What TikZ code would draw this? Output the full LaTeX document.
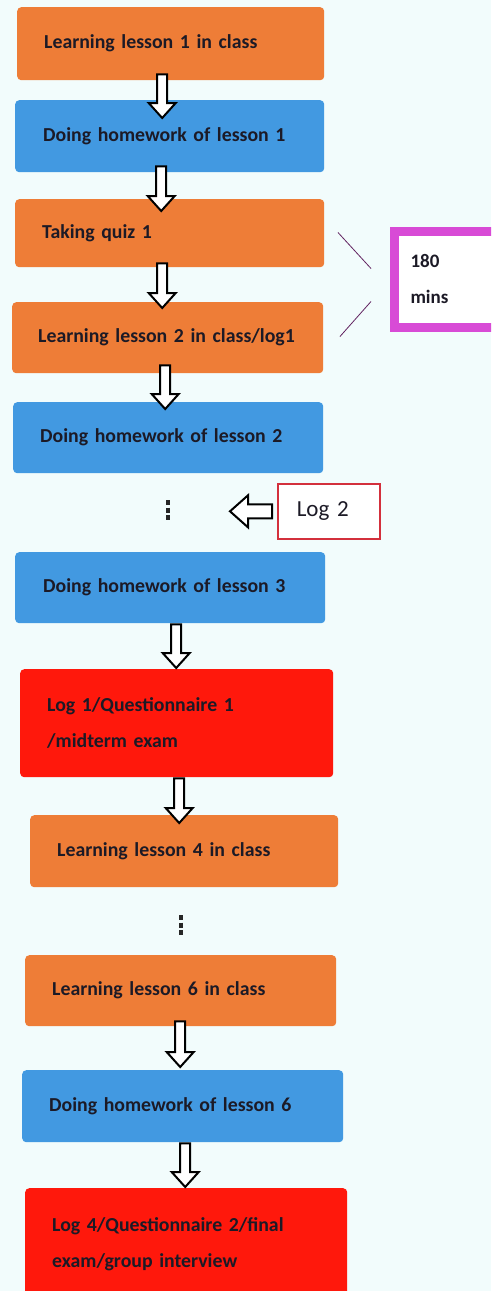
\documentclass[tikz,border=0pt]{standalone}
\usepackage{fontspec}
\setmainfont{Carlito}
\usetikzlibrary{calc}
\definecolor{bg}{HTML}{F2FCFC}
\definecolor{orng}{HTML}{EE7D37}
\definecolor{blu}{HTML}{4299E1}
\definecolor{rd}{HTML}{FF180C}
\definecolor{mag}{HTML}{D84BD6}
\definecolor{logred}{HTML}{D3303C}
\definecolor{txt}{HTML}{1C1A26}
\newcommand\hollowdown[2]{\draw[harrow] let \p1=#1, \p2=#2 in
  (\x1-5pt,\y1) -- (\x1-5pt,\y2+15pt) -- (\x1-13.5pt,\y2+15pt) -- (\x1,\y2)
  -- (\x1+13.5pt,\y2+15pt) -- (\x1+5pt,\y2+15pt) -- (\x1+5pt,\y1) -- cycle;}
\newcommand\hollowleft[2]{\draw[harrow] let \p1=#1, \p2=#2 in
  (\x1,\y1+7pt) -- (\x2+18pt,\y1+7pt) -- (\x2+18pt,\y1+16pt) -- (\x2,\y1)
  -- (\x2+18pt,\y1-16pt) -- (\x2+18pt,\y1-7pt) -- (\x1,\y1-7pt) -- cycle;}
\begin{document}
\begin{tikzpicture}[x=1pt,y=-1pt,
  box/.style={anchor=north west, rounded corners=4pt, inner xsep=27pt, inner ysep=0pt,
    align=left, text=txt, font=\fontsize{19.8}{36}\selectfont\bfseries},
  harrow/.style={draw=black, line width=2pt, fill=white, line join=miter},
  thinline/.style={draw=black!55!mag, line width=0.8pt},
  dotsline/.style={line width=3.5pt, dash pattern=on 5pt off 2.5pt, black!85}]
\useasboundingbox (0,0) rectangle (491,1291);
\clip (0,0) rectangle (491,1291);
\fill[bg] (0,0) rectangle (491,1291);

\node[box, fill=orng, minimum width=307pt, minimum height=73pt, text width=253pt] (b1) at (17,7) {Learning lesson 1 in class};
\node[box, fill=blu, minimum width=309pt, minimum height=72pt, text width=253pt, inner xsep=28pt] (b2) at (15,100) {Doing homework of lesson 1};
\node[box, fill=orng, minimum width=309pt, minimum height=68pt, text width=255pt] (b3) at (15,199) {Taking quiz 1};
\node[box, fill=orng, minimum width=311pt, minimum height=71pt, text width=259pt, inner xsep=26pt] (b4) at (12,302) {\mbox{Learning lesson 2 in class/log1}};
\node[box, fill=blu, minimum width=310pt, minimum height=71pt, text width=256pt] (b5) at (13,402) {Doing homework of lesson 2};
\node[box, fill=blu, minimum width=310pt, minimum height=71pt, text width=254pt, inner xsep=28pt] (b6) at (15,552) {Doing homework of lesson 3};
\node[box, fill=rd, minimum width=313pt, minimum height=108pt, text width=259pt] (b7) at (20,669) {Log 1/Questionnaire 1\\/midterm exam};
\node[box, fill=orng, minimum width=308pt, minimum height=72pt, text width=254pt] (b8) at (30,815) {Learning lesson 4 in class};
\node[box, fill=orng, minimum width=311pt, minimum height=71pt, text width=257pt] (b9) at (25,955) {Learning lesson 6 in class};
\node[box, fill=blu, minimum width=321pt, minimum height=72pt, text width=267pt] (b10) at (22,1070) {Doing homework of lesson 6};
\node[box, fill=rd, minimum width=322pt, minimum height=112pt, text width=268pt] (b11) at (25,1188) {Log 4/Questionnaire 2/final\\exam/group interview};

% side boxes
\node[anchor=north west, draw=mag, line width=9pt, fill=white, minimum width=130pt, minimum height=96pt,
  text width=98pt, inner xsep=16pt, align=left, text=txt, font=\fontsize{19}{36}\selectfont\bfseries] (mag) at (390,227) {180\\mins};
\node[anchor=north west, draw=logred, line width=1.6pt, fill=white, minimum width=102pt, minimum height=55pt,
  text width=64pt, inner xsep=19pt, align=left, text=txt, font=\fontsize{23}{28}\selectfont] (log2) at (277,483) {Log 2};

% dots
\coordinate (d1) at (168,510);
\coordinate (d2) at (181,925);
\draw[dotsline] ($(d1)+(0,-10)$) -- ($(d1)+(0,10)$);
\draw[dotsline] ($(d2)+(0,-10)$) -- ($(d2)+(0,10)$);

% arrows
\hollowdown{($(b1.south)+(-8.5,-6)$)}{($(b2.north)+(0,18)$)}
\hollowdown{($(b2.south)+(-8.5,-6)$)}{($(b3.north)+(0,12)$)}
\hollowdown{($(b3.south)+(-7.5,-4)$)}{($(b4.north)+(0,6)$)}
\hollowdown{($(b4.south)+(-2.5,-8)$)}{($(b5.north)+(0,7)$)}
\hollowdown{($(b6.south)+(6,1)$)}{($(b7.north)+(0,-1)$)}
\hollowdown{($(b7.south)+(2.5,1)$)}{($(b8.north)+(0,8)$)}
\hollowdown{($(b9.south)+(-0.5,-5)$)}{($(b10.north)+(0,-3)$)}
\hollowdown{($(b10.south)+(2.5,1)$)}{($(b11.north)+(0,-1)$)}
\hollowleft{($(log2.west)+(-5,0)$)}{($(d1)+(62,0)$)}

% lines to the 180 mins box
\draw[thinline] ($(mag.west)+(-52,-47)$) -- ($(mag.west)+(-19,-11)$);
\draw[thinline] ($(mag.west)+(-19,22)$) -- ($(mag.west)+(-50,57)$);
\end{tikzpicture}
\end{document}
